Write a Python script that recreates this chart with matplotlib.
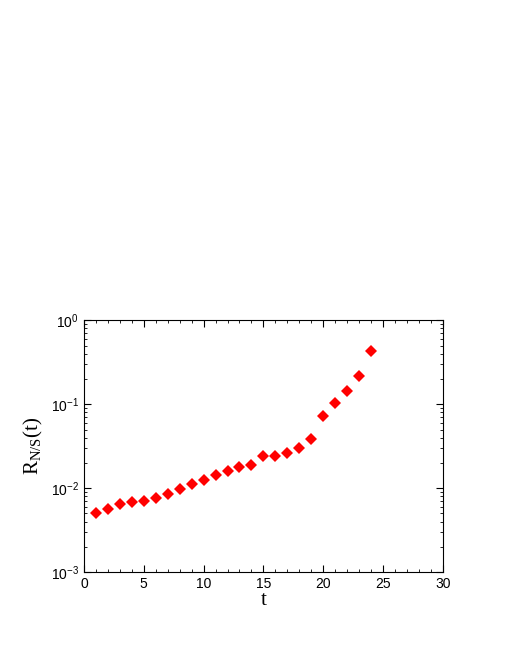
import matplotlib
matplotlib.use("Agg")
import matplotlib.pyplot as plt
from matplotlib.ticker import LogLocator, MultipleLocator

t = list(range(1, 25))
r = [0.0050, 0.0056, 0.0065, 0.0068, 0.0070, 0.0076, 0.0085, 0.0097, 0.0112, 0.0124,
     0.0143, 0.0159, 0.0178, 0.0188, 0.0240, 0.0240, 0.0260, 0.0300, 0.0390, 0.0720,
     0.103, 0.143, 0.216, 0.43]

fig = plt.figure(figsize=(5.18, 6.70), dpi=100)
ax = fig.add_axes([0.162, 0.146, 0.693, 0.376])
ax.plot(t, r, 'D', color='#ff0000', markersize=6.5, markeredgewidth=0)
ax.set_yscale('log')
ax.set_xlim(0, 30)
ax.set_ylim(1e-3, 1)
ax.xaxis.set_major_locator(MultipleLocator(5))
ax.xaxis.set_minor_locator(MultipleLocator(1))
ax.yaxis.set_minor_locator(LogLocator(base=10, subs=range(2, 10)))
ax.tick_params(which='both', direction='in', top=True, right=True, labelsize=10)
ax.tick_params(which='major', length=5)
ax.tick_params(which='minor', length=2.5)
for lab in ax.get_xticklabels() + ax.get_yticklabels():
    lab.set_family('Liberation Sans')
ax.set_xlabel('t', fontsize=15, family='Liberation Serif', labelpad=0)
ax.set_ylabel(r'R$_{\mathregular{N/S}}$(t)', fontsize=15, family='Liberation Serif', labelpad=4)
fig.savefig('out.png', dpi=100)
